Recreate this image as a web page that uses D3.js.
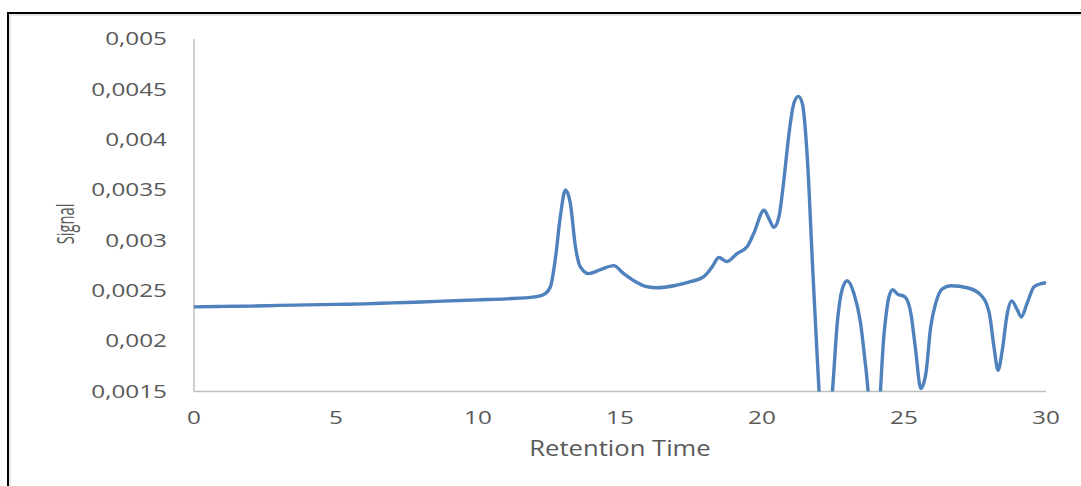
<!DOCTYPE html>
<html>
<head>
<meta charset="utf-8">
<script src="https://cdn.jsdelivr.net/npm/d3@7"></script>
<style>
  html, body { margin: 0; padding: 0; background: #fff; }
  svg { display: block; }
  text { font-family: "Open Sans", "DejaVu Sans", sans-serif; fill: #595959; }
</style>
</head>
<body>
<svg id="chart" width="1081" height="486"></svg>
<script>
// Chromatogram trace: retention time (min) and detector signal
const retentionTime = [
  0, 1, 2, 3, 4, 5, 6, 7, 8, 9, 10, 11, 12, 12.3, 12.55, 12.72, 12.9, 13.08, 13.25,
  13.43, 13.6, 13.9, 14.31, 14.78, 15.13, 15.49, 15.96, 16.31, 16.9, 17.48, 17.95,
  18.25, 18.48, 18.77, 19.12, 19.48, 19.71, 20.07, 20.24, 20.42, 20.6, 20.77, 20.95,
  21.12, 21.28, 21.42, 21.6, 21.77, 21.95, 22.2, 22.48, 22.65, 22.82, 23.0, 23.24,
  23.47, 23.65, 24.0, 24.3, 24.47, 24.61, 24.76, 25.03, 25.24, 25.41, 25.59, 25.77,
  25.94, 26.12, 26.35, 26.65, 27.23, 27.7, 28.0, 28.17, 28.31, 28.46, 28.64, 28.79,
  28.99, 29.13, 29.34, 29.58, 29.82, 30
];
const signal = [
  0.00234, 0.002345, 0.002348, 0.002355, 0.00236, 0.002365, 0.00237, 0.00238, 0.002388,
  0.0024, 0.00241, 0.00242, 0.00244, 0.00246, 0.00254, 0.00281, 0.00324, 0.0035, 0.00337,
  0.00294, 0.00274, 0.00267, 0.00271, 0.00275, 0.00267, 0.0026, 0.00254, 0.00253, 0.00255,
  0.00259, 0.00264, 0.00274, 0.00283, 0.00279, 0.00287, 0.00294, 0.00307, 0.0033, 0.00322,
  0.00313, 0.00324, 0.0036, 0.00406, 0.00436, 0.00443, 0.00436, 0.0038, 0.00281, 0.00181,
  0.0008, 0.0015, 0.00218, 0.00251, 0.0026, 0.00247, 0.00218, 0.00175, 0.0009, 0.00208,
  0.00244, 0.00251, 0.00247, 0.00244, 0.00228, 0.00191, 0.00153, 0.00168, 0.00214, 0.00238,
  0.00252, 0.00255, 0.00253, 0.00246, 0.00228, 0.00194, 0.00171, 0.00191, 0.00228, 0.0024,
  0.00231, 0.00224, 0.00238, 0.00254, 0.00257, 0.00258
];
const xTicks = [0, 5, 10, 15, 20, 25, 30];
const yTicks = [0.0015, 0.002, 0.0025, 0.003, 0.0035, 0.004, 0.0045, 0.005];
const xTitle = "Retention Time";
const yTitle = "Signal";

const svg = d3.select("#chart");
const plot = { left: 194, right: 1046, top: 39, bottom: 391.5 };

const x = d3.scaleLinear().domain([0, 30]).range([plot.left, plot.right]);
const y = d3.scaleLinear().domain([0.0015, 0.005]).range([plot.bottom, plot.top]);

// Outer frame (only its top and left edges fall inside the view)
svg.append("rect").attr("x", 8).attr("y", 13).attr("width", 1200).attr("height", 600)
  .attr("fill", "none").attr("stroke", "#000").attr("stroke-width", 2);
svg.append("rect").attr("x", 10).attr("y", 15).attr("width", 1200).attr("height", 600)
  .attr("fill", "none").attr("stroke", "#d0d0d0").attr("stroke-width", 1);

// Axis lines
svg.append("line").attr("x1", x(0)).attr("x2", x(0)).attr("y1", y(0.005)).attr("y2", y(0.0015))
  .attr("stroke", "#bfbfbf").attr("stroke-width", 1.5);
svg.append("line").attr("x1", x(0)).attr("x2", x(30)).attr("y1", y(0.0015)).attr("y2", y(0.0015))
  .attr("stroke", "#bfbfbf").attr("stroke-width", 1.5);

const fmt = v => d3.format(".4~f")(v).replace(".", ",");

// Tick labels, drawn with a wide horizontal stretch
const tickStretch = 1.35;
svg.append("g").selectAll("text").data(yTicks).join("text")
  .attr("transform", d => `translate(167,${y(d)}) scale(${tickStretch},1)`)
  .attr("text-anchor", "end").attr("dy", "0.35em")
  .style("font-size", "18px")
  .text(fmt);

svg.append("g").selectAll("text").data(xTicks).join("text")
  .attr("transform", d => `translate(${x(d)},423.5) scale(${tickStretch},1)`)
  .attr("text-anchor", "middle")
  .style("font-size", "18px")
  .text(d => d);

// Axis titles
svg.append("text")
  .attr("transform", `translate(${(plot.left + plot.right) / 2},456) scale(1.22,1)`)
  .attr("text-anchor", "middle").style("font-size", "21px")
  .text(xTitle);

svg.append("text")
  .attr("transform", "translate(74,224) rotate(-90) scale(0.64,1)")
  .attr("text-anchor", "middle").style("font-size", "23px")
  .text(yTitle);

// Signal trace, clipped to the plot area
svg.append("clipPath").attr("id", "plot-clip").append("rect")
  .attr("x", plot.left).attr("y", plot.top - 10)
  .attr("width", plot.right - plot.left + 4).attr("height", plot.bottom - plot.top + 10);

const points = retentionTime.map((t, i) => [t, signal[i]]);
const line = d3.line().x(d => x(d[0])).y(d => y(d[1])).curve(d3.curveMonotoneX);

svg.append("path").datum(points)
  .attr("clip-path", "url(#plot-clip)")
  .attr("fill", "none").attr("stroke", "#4f81bd").attr("stroke-width", 3.4)
  .attr("stroke-linejoin", "round")
  .attr("d", line);
</script>
</body>
</html>
